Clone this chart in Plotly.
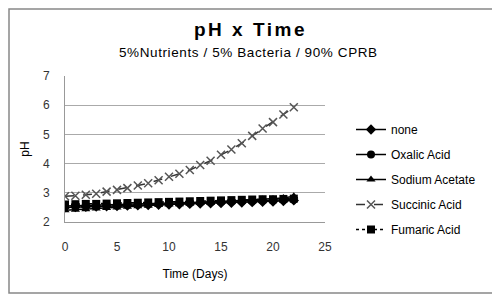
import plotly.graph_objects as go

days = list(range(0, 23))
none_ph = [2.50, 2.51, 2.52, 2.53, 2.54, 2.55, 2.56, 2.57, 2.58, 2.59, 2.60, 2.61, 2.62, 2.63, 2.64, 2.65, 2.66, 2.67, 2.68, 2.69, 2.70, 2.72, 2.74]
oxalic_ph = [2.55, 2.56, 2.57, 2.58, 2.59, 2.60, 2.61, 2.62, 2.62, 2.63, 2.64, 2.65, 2.66, 2.67, 2.68, 2.69, 2.70, 2.71, 2.72, 2.73, 2.74, 2.75, 2.77]
sodium_acetate_ph = [2.40, 2.42, 2.44, 2.46, 2.48, 2.50, 2.52, 2.54, 2.56, 2.58, 2.60, 2.61, 2.63, 2.65, 2.67, 2.69, 2.71, 2.73, 2.75, 2.77, 2.79, 2.82, 2.88]
succinic_ph = [2.88, 2.90, 2.93, 2.97, 3.04, 3.10, 3.16, 3.25, 3.33, 3.43, 3.55, 3.65, 3.78, 3.95, 4.10, 4.30, 4.48, 4.70, 4.95, 5.20, 5.42, 5.68, 5.93]
fumaric_ph = [2.60, 2.61, 2.62, 2.62, 2.63, 2.64, 2.65, 2.66, 2.67, 2.68, 2.69, 2.70, 2.71, 2.72, 2.73, 2.74, 2.75, 2.76, 2.77, 2.78, 2.78, 2.79, 2.80]

series = [
    ("none", none_ph, "diamond", "solid", "black"),
    ("Oxalic Acid", oxalic_ph, "circle", "solid", "black"),
    ("Sodium Acetate", sodium_acetate_ph, "triangle-up", "solid", "black"),
    ("Succinic Acid", succinic_ph, "x-thin", "dash", "#333333"),
    ("Fumaric Acid", fumaric_ph, "square", "dot", "black"),
]

# page offset compensation (browser body margin)
OX, OY = 8, 8
L, R, T, B = 65 - OX, 325 - OX, 76 - OY, 222 - OY
W, H = 500, 300
PW, PH = R - L, B - T

def px2x(px):
    return (px - OX - L) / PW

def py2y(py):
    return (B - (py - OY)) / PH

fig = go.Figure()
for i, (name, vals, sym, dash, col) in enumerate(series):
    marker = dict(symbol=sym, size=8, color=col)
    if sym == "x-thin":
        marker = dict(symbol=sym, size=8, color="#555555", line=dict(width=1.5, color="#555555"))
    fig.add_trace(go.Scatter(
        x=days, y=vals, name=name, mode="lines+markers",
        line=dict(color=col, width=1.5, dash=dash),
        marker=marker, legendgroup=str(i),
    ))

fig.update_layout(
    width=W, height=H,
    margin=dict(l=L, r=W - R, t=T, b=H - B, autoexpand=False),
    paper_bgcolor="white", plot_bgcolor="white",
    font=dict(family="Arial, Liberation Sans, sans-serif", size=12, color="#222222"),
    annotations=[
        dict(text="<span style='letter-spacing:2.5px'><b>pH x Time</b></span>", xref="paper", yref="paper",
             x=px2x(250), y=py2y(29), xanchor="center", yanchor="middle", showarrow=False,
             font=dict(size=19, color="black")),
        dict(text="<span style='letter-spacing:0.6px'>5%Nutrients / 5% Bacteria / 90% CPRB</span>", xref="paper", yref="paper",
             x=px2x(248), y=py2y(52), xanchor="center", yanchor="middle", showarrow=False,
             font=dict(size=13.5, color="black")),
    ],
    xaxis=dict(range=[0, 25], tickvals=[0, 5, 10, 15, 20, 25], showgrid=False,
               showline=True, linecolor="#999999", linewidth=1, ticks="", zeroline=False,
               automargin=False, ticklabelstandoff=14,
               tickfont=dict(size=12, color="#333333"),
               title=dict(text="Time (Days)", font=dict(size=12, color="black"), standoff=16)),
    yaxis=dict(range=[2, 7], tickvals=[2, 3, 4, 5, 6, 7], showgrid=True, gridcolor="#aaaaaa",
               showline=True, linecolor="#999999", linewidth=1, ticks="", zeroline=False,
               automargin=False, ticklabelstandoff=12,
               tickfont=dict(size=12, color="#333333"),
               title=dict(text="pH", font=dict(size=12, color="black"), standoff=10)),
    legend=dict(x=px2x(351), y=py2y(115), xanchor="left", yanchor="top", tracegroupgap=6,
                font=dict(size=12, color="black"), itemwidth=30, bgcolor="rgba(0,0,0,0)"),
    showlegend=True,
)

fig.add_shape(type="rect", xref="paper", yref="paper",
              x0=px2x(9), x1=px2x(494), y0=py2y(293), y1=py2y(9),
              line=dict(color="#888888", width=1.5), fillcolor="rgba(0,0,0,0)", layer="below")

fig.write_html("out.html")
